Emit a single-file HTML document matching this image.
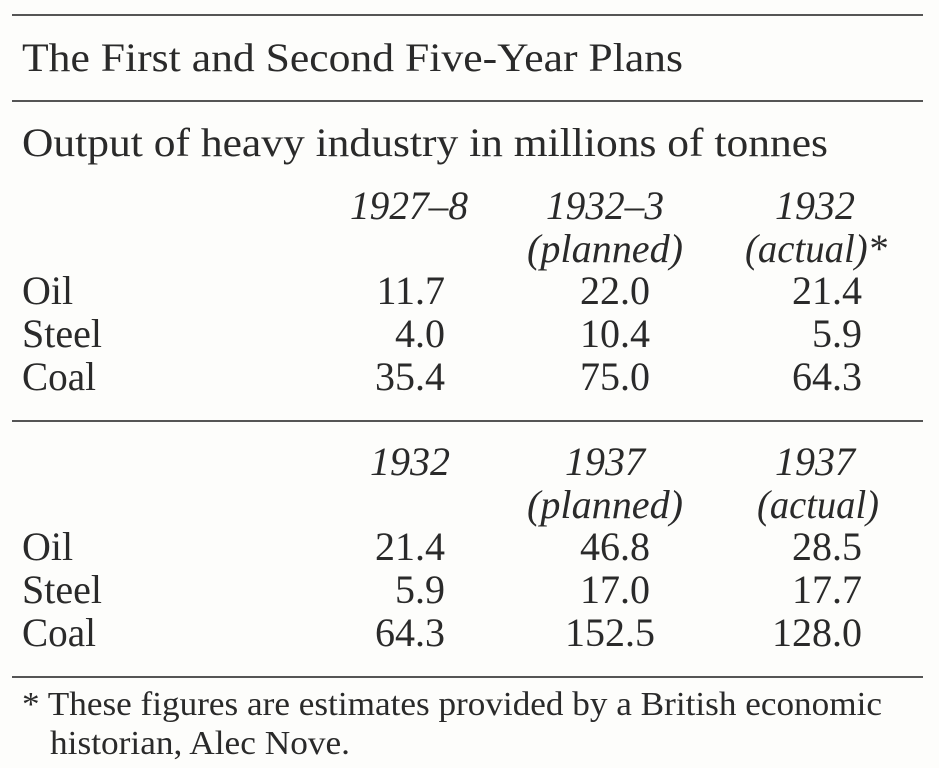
<!DOCTYPE html>
<html><head><meta charset="utf-8"><style>
html,body{margin:0;padding:0;background:#fdfdfb;}
svg{display:block}
text{font-family:"Liberation Serif",serif;fill:#2a2a2a;font-size:40px}
.i{font-style:italic}
</style></head><body>
<svg width="939" height="768">
<line x1="12" y1="15" x2="923" y2="15" stroke="#555" stroke-width="2"/>
<line x1="12" y1="101" x2="923" y2="101" stroke="#555" stroke-width="2"/>
<line x1="12" y1="421" x2="923" y2="421" stroke="#555" stroke-width="2"/>
<line x1="12" y1="677" x2="923" y2="677" stroke="#555" stroke-width="2"/>
<text x="22" y="71" textLength="661" lengthAdjust="spacingAndGlyphs">The First and Second Five-Year Plans</text>
<text x="22" y="156" textLength="806" lengthAdjust="spacingAndGlyphs">Output of heavy industry in millions of tonnes</text>
<g>
<text class="i" x="468" y="219" text-anchor="end" textLength="118" lengthAdjust="spacingAndGlyphs">1927–8</text>
<text class="i" x="605" y="219" text-anchor="middle" textLength="118" lengthAdjust="spacingAndGlyphs">1932–3</text>
<text class="i" x="605" y="262" text-anchor="middle" textLength="156" lengthAdjust="spacingAndGlyphs">(planned)</text>
<text class="i" x="855" y="219" text-anchor="end">1932</text>
<text class="i" x="887" y="262" text-anchor="end" textLength="142" lengthAdjust="spacingAndGlyphs">(actual)*</text>
<text x="22" y="304">Oil</text>
<text x="22" y="347" textLength="80" lengthAdjust="spacingAndGlyphs">Steel</text>
<text x="22" y="390" textLength="74" lengthAdjust="spacingAndGlyphs">Coal</text>
<text x="445" y="304" text-anchor="end">11.7</text><text x="650" y="304" text-anchor="end">22.0</text><text x="862" y="304" text-anchor="end">21.4</text>
<text x="445" y="347" text-anchor="end">4.0</text><text x="650" y="347" text-anchor="end">10.4</text><text x="862" y="347" text-anchor="end">5.9</text>
<text x="445" y="390" text-anchor="end">35.4</text><text x="650" y="390" text-anchor="end">75.0</text><text x="862" y="390" text-anchor="end">64.3</text>
</g>
<g>
<text class="i" x="450" y="475" text-anchor="end">1932</text>
<text class="i" x="605" y="475" text-anchor="middle">1937</text>
<text class="i" x="605" y="518" text-anchor="middle" textLength="156" lengthAdjust="spacingAndGlyphs">(planned)</text>
<text class="i" x="855" y="475" text-anchor="end">1937</text>
<text class="i" x="818" y="518" text-anchor="middle" textLength="122" lengthAdjust="spacingAndGlyphs">(actual)</text>
<text x="22" y="560">Oil</text>
<text x="22" y="603" textLength="80" lengthAdjust="spacingAndGlyphs">Steel</text>
<text x="22" y="646" textLength="74" lengthAdjust="spacingAndGlyphs">Coal</text>
<text x="445" y="560" text-anchor="end">21.4</text><text x="650" y="560" text-anchor="end">46.8</text><text x="862" y="560" text-anchor="end">28.5</text>
<text x="445" y="603" text-anchor="end">5.9</text><text x="650" y="603" text-anchor="end">17.0</text><text x="862" y="603" text-anchor="end">17.7</text>
<text x="445" y="646" text-anchor="end">64.3</text><text x="655" y="646" text-anchor="end">152.5</text><text x="862" y="646" text-anchor="end">128.0</text>
</g>
<text x="22" y="715" style="font-size:34px" textLength="860" lengthAdjust="spacingAndGlyphs">* These figures are estimates provided by a British economic</text>
<text x="50" y="754" style="font-size:34px" textLength="300" lengthAdjust="spacingAndGlyphs">historian, Alec Nove.</text>
</svg>
</body></html>
